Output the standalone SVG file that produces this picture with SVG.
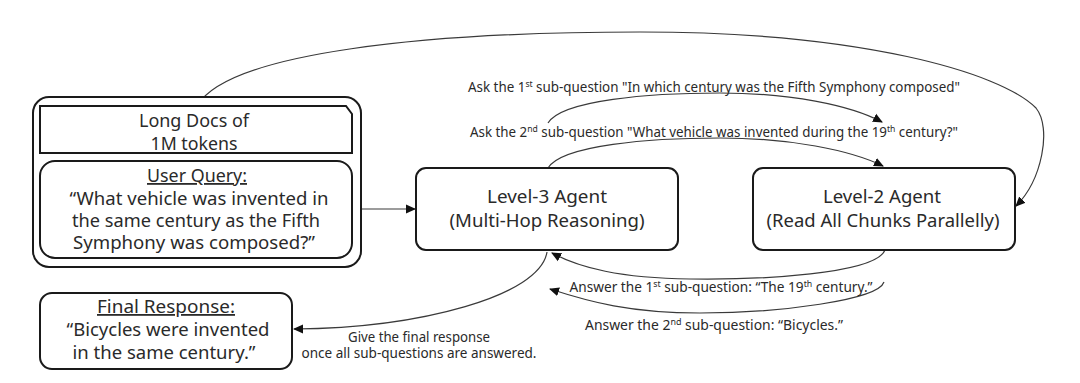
<svg xmlns="http://www.w3.org/2000/svg" width="1080" height="383" viewBox="0 0 1080 383">
<defs>
<marker id="ah" viewBox="0 0 10 10" refX="9" refY="5" markerWidth="10" markerHeight="10" markerUnits="userSpaceOnUse" orient="auto">
<path d="M0,0.5 L10,5 L0,9.5 z" fill="#111"/>
</marker>
<style>
.box{fill:#fff;stroke:#1a1a1a;stroke-width:2}
.t{font-family:"Noto Sans","Open Sans",sans-serif;font-size:18px;fill:#2a2a2a;text-anchor:middle}
.s{font-family:"Noto Sans","Open Sans",sans-serif;font-size:14px;fill:#2a2a2a;text-anchor:middle}
.sup{font-size:9px;baseline-shift:5px}
.c{fill:none;stroke:#3a3a3a;stroke-width:1.2;marker-end:url(#ah)}
</style>
</defs>
<rect width="1080" height="383" fill="#fff"/>

<g id="connectors">
<path class="c" d="M197,106 C228,52 430,32 640,32 C860,32 1000,72 1036,108 C1052,128 1042,180 1016,206"/>
<path class="c" d="M361,209 L415,209"/>
<path class="c" d="M548,123 C562,100 650,93 720,93 C790,93 850,105 882,122"/>
<path class="c" d="M548,168 C562,145 650,138 720,138 C790,138 850,150 883,166"/>
<path class="c" d="M885,250 C876,274 760,280 690,279 C620,278 580,268 552,253"/>
<path class="c" d="M884,282 C878,300 780,313 700,313 C630,313 590,302 550,289"/>
<path class="c" d="M547,252 C540,296 420,328 294,329"/>
</g>

<g id="input">
<rect class="box" x="33" y="97" width="328" height="170" rx="16"/>
<g id="long-docs">
<path class="box" d="M40,106 L346,106 L352,114 L352,153 L40,153 Z"/>
<text class="t" x="194" y="127" textLength="110" lengthAdjust="spacingAndGlyphs">Long Docs of</text>
<text class="t" x="194" y="150" textLength="87" lengthAdjust="spacingAndGlyphs">1M tokens</text>
</g>
<g id="user-query">
<rect class="box" x="40" y="161" width="312" height="97" rx="15"/>
<text class="t" x="197" y="182" textLength="100" lengthAdjust="spacingAndGlyphs" text-decoration="underline">User Query:</text>
<text class="t" x="199" y="205" textLength="259" lengthAdjust="spacingAndGlyphs">“What vehicle was invented in</text>
<text class="t" x="196" y="227" textLength="248" lengthAdjust="spacingAndGlyphs">the same century as the Fifth</text>
<text class="t" x="194" y="249" textLength="242" lengthAdjust="spacingAndGlyphs">Symphony was composed?”</text>
</g>
</g>

<g id="level3">
<rect class="box" x="416" y="168" width="262" height="82" rx="10"/>
<text class="t" x="547" y="203" textLength="120" lengthAdjust="spacingAndGlyphs">Level-3 Agent</text>
<text class="t" x="547" y="227" textLength="195" lengthAdjust="spacingAndGlyphs">(Multi-Hop Reasoning)</text>
</g>

<g id="level2">
<rect class="box" x="753" y="168" width="262" height="82" rx="10"/>
<text class="t" x="882" y="203" textLength="118" lengthAdjust="spacingAndGlyphs">Level-2 Agent</text>
<text class="t" x="883" y="227" textLength="233" lengthAdjust="spacingAndGlyphs">(Read All Chunks Parallelly)</text>
</g>

<g id="final-response">
<rect class="box" x="40" y="293" width="252" height="76" rx="12"/>
<text class="t" x="166" y="313" textLength="138" lengthAdjust="spacingAndGlyphs" text-decoration="underline">Final Response:</text>
<text class="t" x="168" y="336" textLength="203" lengthAdjust="spacingAndGlyphs">“Bicycles were invented</text>
<text class="t" x="164" y="359" textLength="183" lengthAdjust="spacingAndGlyphs">in the same century.”</text>
</g>

<g id="labels">
<text class="s" x="714" y="92" textLength="492" lengthAdjust="spacingAndGlyphs">Ask the 1<tspan class="sup">st</tspan> sub-question "In which century was the Fifth Symphony composed"</text>
<text class="s" x="714" y="137" textLength="488" lengthAdjust="spacingAndGlyphs">Ask the 2<tspan class="sup">nd</tspan> sub-question "What vehicle was invented during the 19<tspan class="sup">th</tspan> century?"</text>
<text class="s" x="721" y="292" textLength="303" lengthAdjust="spacingAndGlyphs">Answer the 1<tspan class="sup">st</tspan> sub-question:  “The 19<tspan class="sup">th</tspan> century.”</text>
<text class="s" x="714" y="330" textLength="258" lengthAdjust="spacingAndGlyphs">Answer the 2<tspan class="sup">nd</tspan> sub-question:  “Bicycles.”</text>
<text class="s" x="419" y="342" textLength="142" lengthAdjust="spacingAndGlyphs">Give the final response</text>
<text class="s" x="419" y="358" textLength="235" lengthAdjust="spacingAndGlyphs">once all sub-questions are answered.</text>
</g>
</svg>
